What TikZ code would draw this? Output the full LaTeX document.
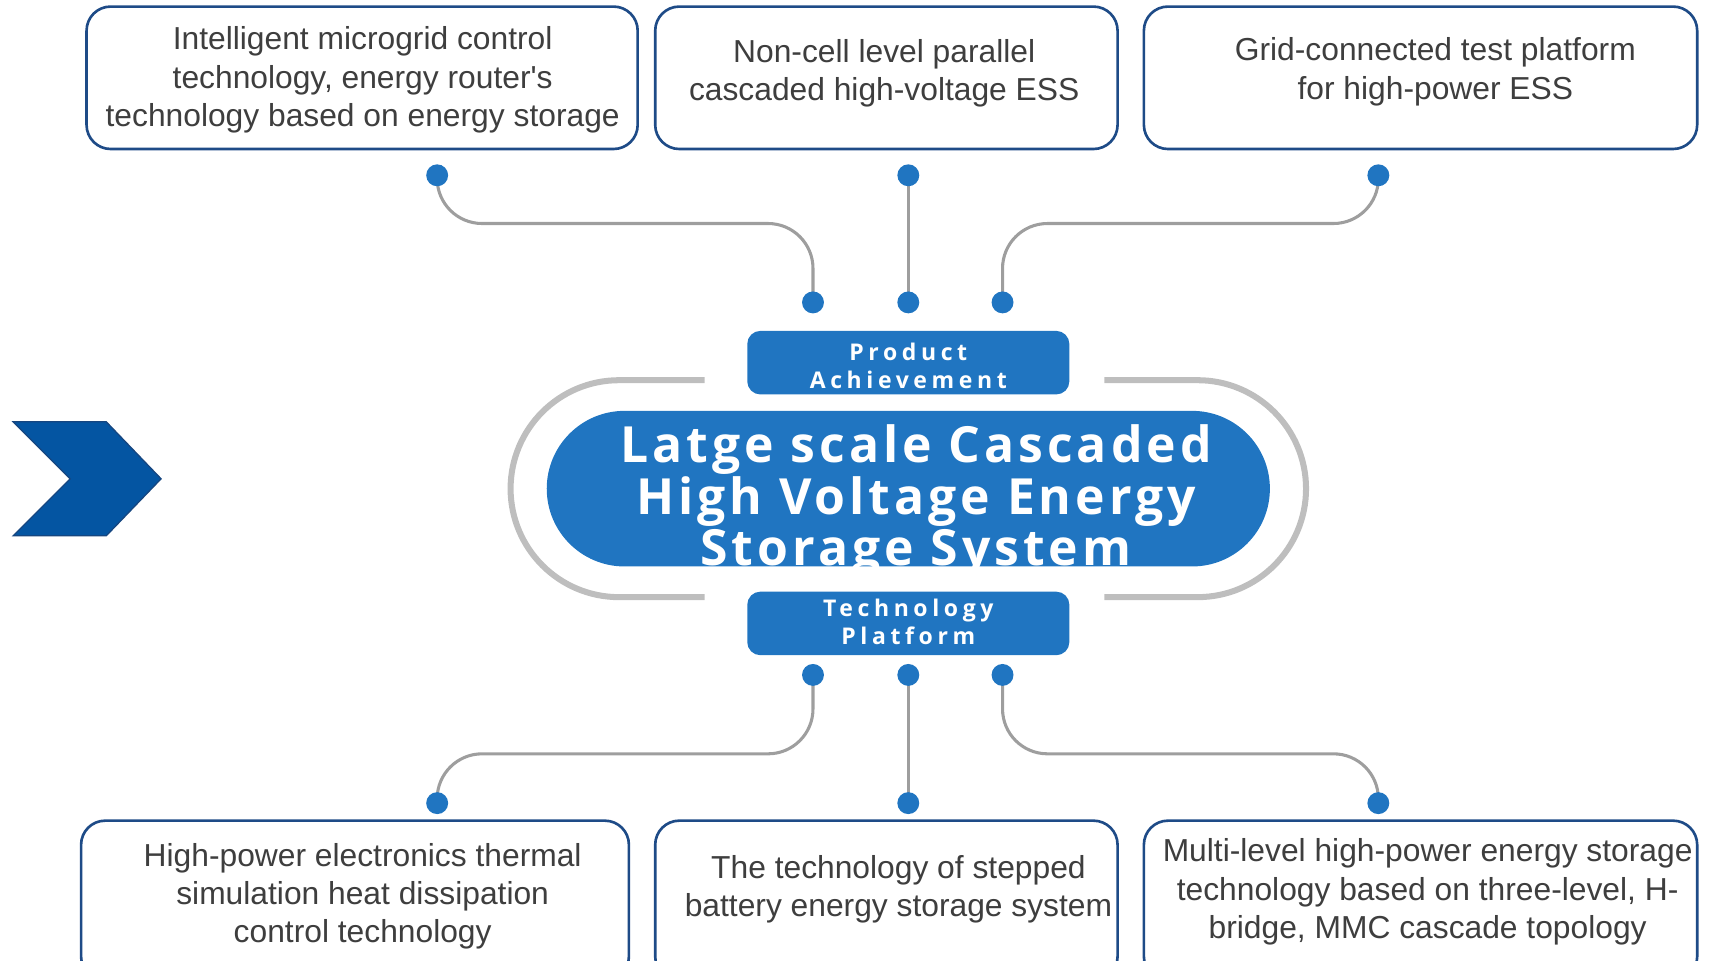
\documentclass[tikz,border=0pt]{standalone}
\usepackage{fontspec}
\setmainfont{Liberation Sans}
\newfontfamily\bigfont{Open Sans}[LetterSpace=8]
\newfontfamily\labfont{Open Sans}[LetterSpace=20]
\usetikzlibrary{backgrounds}
\definecolor{blu}{RGB}{32,117,193}
\definecolor{navy}{RGB}{30,75,135}
\definecolor{conngray}{RGB}{158,158,158}
\definecolor{brgray}{RGB}{190,190,190}
\definecolor{chevfill}{RGB}{4,85,162}
\definecolor{chevdraw}{RGB}{22,70,128}
\definecolor{txt}{RGB}{62,62,62}
\tikzset{
  box/.style={draw=navy, line width=2.4pt, rounded corners=22pt, fill=white, inner sep=0pt},
  boxtext/.style={text=txt, align=center, font=\fontsize{29}{35}\selectfont, inner sep=0pt},
  dot/.style={circle, fill=blu, minimum size=20pt, inner sep=0pt},
  conn/.style={draw=conngray, line width=2.8pt, rounded corners=41pt},
  bracket/.style={draw=brgray, line width=5.5pt},
  lab/.style={fill=blu, rounded corners=12pt, minimum width=294pt, minimum height=58pt, inner sep=0pt},
  labtext/.style={text=white, align=center, font=\labfont\bfseries\fontsize{21}{26}\selectfont, inner sep=0pt},
  pill/.style={fill=blu, rounded corners=71pt, minimum width=660pt, minimum height=142pt, inner sep=0pt},
  bigtext/.style={text=white, anchor=base, font=\bigfont\bfseries\fontsize{45.5}{47.5}\selectfont, inner sep=0pt},
}
\begin{document}
\begin{tikzpicture}[x=1pt,y=-1pt]
\useasboundingbox (0,0) rectangle (1568,877);

% chevron
\draw[fill=chevfill, draw=chevdraw, line width=1.2pt, line join=miter]
  (12,385) -- (97,385) -- (147,437) -- (97,489) -- (12,489) -- (64,437) -- cycle;

% top boxes
\node[box, minimum width=503pt, minimum height=130pt] (b1) at (330.5,71) {};
\node[box, minimum width=422pt, minimum height=130pt] (b2) at (809,71) {};
\node[box, minimum width=505pt, minimum height=130pt] (b3) at (1296.5,71) {};
\node[boxtext] (b1t) at (331,73) {Intelligent microgrid control\\technology, energy router\textquotesingle s\\technology based on energy storage};
\node[boxtext] (b2t) at (807,67) {Non-cell level parallel\\cascaded high-voltage ESS};
\node[boxtext] (b3t) at (1310,65.5) {Grid-connected test platform\\for high-power ESS};

% bottom boxes
\node[box, minimum width=500pt, minimum height=146pt] (b4) at (324,822) {};
\node[box, minimum width=422pt, minimum height=146pt] (b5) at (809,822) {};
\node[box, minimum width=505pt, minimum height=146pt] (b6) at (1296.5,822) {};
\node[boxtext] (b4t) at (331,818) {High-power electronics thermal\\simulation heat dissipation\\control technology};
\node[boxtext] (b5t) at (820,811.5) {The technology of stepped\\battery energy storage system};
\node[boxtext] (b6t) at (1303,814) {Multi-level high-power energy storage\\technology based on three-level, H-\\bridge, MMC cascade topology};

% gray brackets
\draw[bracket] (643,347) -- (565,347) arc[start angle=270, end angle=90, radius=99] -- (643,545);
\draw[bracket] (1008,347) -- (1093,347) arc[start angle=270, end angle=450, radius=99] -- (1008,545);

% central pill
\node[pill] (main) at (829,446) {};
\begin{scope}
  \clip[rounded corners=71pt] (499,375) rectangle (1159,517);
  \node[bigtext] (m1) at (836,422) {Latge scale Cascaded};
  \node[bigtext] (m2) at (836,469.5) {High Voltage Energy};
  \node[bigtext] (m3) at (836,516) {Storage System};
\end{scope}

% labels
\node[lab] (pa) at (829,331) {};
\node[labtext] (pat) at (829,334) {Product\\Achievement};
\node[lab] (tp) at (829,569) {};
\node[labtext] (tpt) at (829,567.5) {Technology\\Platform};

% dots
\node[dot] (d1) at (399,160) {};
\node[dot] (d2) at (829,160) {};
\node[dot] (d3) at (1258,160) {};
\node[dot] (d4) at (742,276) {};
\node[dot] (d5) at (829,276) {};
\node[dot] (d6) at (915,276) {};
\node[dot] (e1) at (742,616) {};
\node[dot] (e2) at (829,616) {};
\node[dot] (e3) at (915,616) {};
\node[dot] (e4) at (399,733) {};
\node[dot] (e5) at (829,733) {};
\node[dot] (e6) at (1258,733) {};

\coordinate (h1) at (570,204);
\coordinate (h2) at (1086,204);
\coordinate (h3) at (570,688);
\coordinate (h4) at (1086,688);

\begin{pgfonlayer}{background}
  \draw[conn] (d1.center) |- (h1) -| (d4.center);
  \draw[conn] (d2.center) -- (d5.center);
  \draw[conn] (d3.center) |- (h2) -| (d6.center);
  \draw[conn] (e1.center) |- (h3) -| (e4.center);
  \draw[conn] (e2.center) -- (e5.center);
  \draw[conn] (e3.center) |- (h4) -| (e6.center);
\end{pgfonlayer}
\end{tikzpicture}
\end{document}
